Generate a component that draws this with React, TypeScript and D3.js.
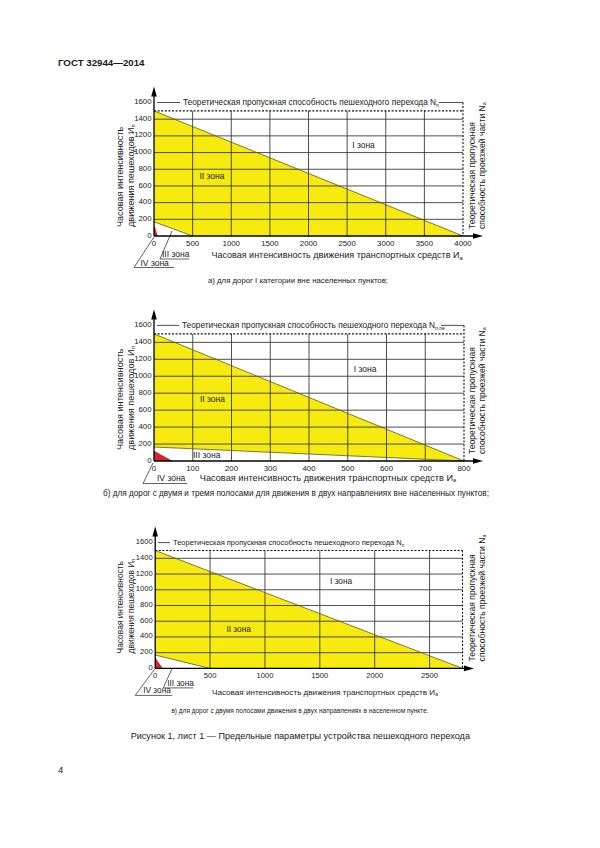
import React from 'react';
import * as d3 from 'd3';

// ---------- data ----------
const yTickValues = [0, 200, 400, 600, 800, 1000, 1200, 1400, 1600];
const yGridValues = [200, 400, 600, 800, 1000, 1200, 1400];
const pedestrianCapacity = 1500;
const yMax = 1600;

const xTicksA = [0, 500, 1000, 1500, 2000, 2500, 3000, 3500, 4000];
const xTicksB = [0, 100, 200, 300, 400, 500, 600, 700, 800];
const xTicksC = [0, 500, 1000, 1500, 2000, 2500];

const roadCapacityA = 4000;
const roadCapacityB = 800;
const roadCapacityC = 2800;

type P = [number, number];
const zoneIIA: P[] = [[0, 1500], [4000, 0], [500, 0], [0, 170]];
const zoneIIIA: P[] = [[0, 170], [500, 0], [0, 0]];
const zoneIVA: P[] = [[0, 140], [50, 0], [0, 0]];

const zoneIIB: P[] = [[0, 1500], [800, 0], [0, 165]];
const zoneIIIB: P[] = [[0, 165], [800, 0], [0, 0]];
const zoneIVB: P[] = [[0, 120], [48, 0], [0, 0]];

const zoneIIC: P[] = [[0, 1500], [2800, 0], [500, 0], [0, 170]];
const zoneIIIC: P[] = [[0, 170], [500, 0], [0, 0]];
const zoneIVC: P[] = [[0, 140], [70, 0], [0, 0]];

const zoneLabelsA = [{ text: 'I зона', x: 2712, y: 1077 }, { text: 'II зона', x: 751, y: 706 }];
const zoneLabelsB = [{ text: 'I зона', x: 545, y: 1074 }, { text: 'II зона', x: 151, y: 720 }, { text: 'III зона', x: 136, y: 63 }];
const zoneLabelsC = [{ text: 'I зона', x: 1694, y: 1099 }, { text: 'II зона', x: 760, y: 489 }];

const yTitle1 = 'Часовая интенсивность';
const yTitle2 = 'движения пешеходов И';
const xTitle = 'Часовая интенсивность движения транспортных средств И';
const topTitle = 'Теоретическая пропускная способность пешеходного перехода N';
const rightTitle1 = 'Теоретическая пропускная';
const rightTitle2 = 'способность проезжей части N';

const captionA = 'а) для дорог I категории вне населенных пунктов;';
const captionB = 'б) для дорог с двумя и тремя полосами для движения в двух направлениях вне населенных пунктов;';
const captionC = 'в) для дорог с двумя полосами движения в двух направлениях в населенном пункте.';
const headerText = 'ГОСТ 32944—2014';
const figureCaption = 'Рисунок 1, лист 1 — Предельные параметры устройства пешеходного перехода';
const pageNumber = '4';

// ---------- layout ----------
const FONT = '"Liberation Sans", Arial, Helvetica, sans-serif';
const YELLOW = '#f6ea0f';
const RED = '#d9232a';
const GRID = '#3b3b3b';
const INK = '#1a1a1a';

type Ann = { text: string; tx: number; ty: number; pts: P[] };

type Cfg = {
  xMax: number; xTicks: number[]; zII: P[]; zIII: P[]; zIV: P[];
  labels: { text: string; x: number; y: number }[];
  x0: number; x1: number; y0: number; y1: number;
  arrowX: number; fs: number; tickFs: number; xTitleFs: number; topFs: number; yTitleFs: number;
  topStart: number; topRightLine: number | null; vTopAtMax: boolean;
  yTitleStart: number; xTitleY: number; xTitleX: number; topSub: string;
  caption: string; capX: number; capY: number; capFs: number;
  anns: Ann[];
};

const cfgA: Cfg = {
  xMax: roadCapacityA, xTicks: xTicksA, zII: zoneIIA, zIII: zoneIIIA, zIV: zoneIVA, labels: zoneLabelsA,
  x0: 154, x1: 463, y0: 236, y1: 102.5, arrowX: 483, fs: 8.5, tickFs: 7.8, xTitleFs: 9, topFs: 8.3, yTitleFs: 9.1,
  topStart: 183, topRightLine: 439, vTopAtMax: true, yTitleStart: 9, xTitleY: 22, xTitleX: 337, topSub: 'п',
  caption: captionA, capX: 298, capY: 283, capFs: 7.8,
  anns: [
    { text: 'IV зона', tx: -13.5, ty: 29.5, pts: [[0, 1], [-20, 31.5], [20, 31.5]] },
    { text: 'III зона', tx: 8, ty: 21, pts: [[18, -5], [6, 23], [35, 23]] },
  ],
};
const cfgB: Cfg = {
  xMax: roadCapacityB, xTicks: xTicksB, zII: zoneIIB, zIII: zoneIIIB, zIV: zoneIVB, labels: zoneLabelsB,
  x0: 154, x1: 464, y0: 461, y1: 325.4, arrowX: 483, fs: 8.5, tickFs: 7.8, xTitleFs: 9.2, topFs: 8.3, yTitleFs: 9.2,
  topStart: 182, topRightLine: 441, vTopAtMax: true, yTitleStart: 11, xTitleY: 19.5, xTitleX: 328, topSub: 'п.пе',
  caption: captionB, capX: 296, capY: 496, capFs: 8.2,
  anns: [
    { text: 'IV зона', tx: 3, ty: 19.5, pts: [[-1, 2], [-11, 22.5], [33, 22.5]] },
  ],
};
const cfgC: Cfg = {
  xMax: roadCapacityC, xTicks: xTicksC, zII: zoneIIC, zIII: zoneIIIC, zIV: zoneIVC, labels: zoneLabelsC,
  x0: 155.2, x1: 462.5, y0: 668.4, y1: 542.6, arrowX: 474, fs: 8.3, tickFs: 7.6, xTitleFs: 8.1, topFs: 7.5, yTitleFs: 8.4,
  topStart: 173, topRightLine: null, vTopAtMax: false, yTitleStart: 15, xTitleY: 26.5, xTitleX: 325, topSub: 'п',
  caption: captionC, capX: 300, capY: 713, capFs: 6.5,
  anns: [
    { text: 'IV зона', tx: -12, ty: 25, pts: [[0, 0], [-20, 27], [17, 27]] },
    { text: 'III зона', tx: 12, ty: 17.5, pts: [[17, 0], [8, 19.5], [38, 19.5]] },
  ],
};

function Chart({ c }: { c: Cfg }) {
  const x = d3.scaleLinear().domain([0, c.xMax]).range([c.x0, c.x1]);
  const y = d3.scaleLinear().domain([0, yMax]).range([c.y0, c.y1]);
  const line = d3.line<P>().x((d) => x(d[0])).y((d) => y(d[1]));
  const poly = (pts: P[]) => (line(pts) || '') + 'Z';
  const X0 = x(0), Y0 = y(0);
  const rel = d3.line<P>().x((d) => X0 + d[0]).y((d) => Y0 + d[1]);
  const yTop = y(yMax);
  const yCap = y(pedestrianCapacity);
  const upper: P[] = [c.zII[0], c.zII[1]];
  const lower: P[] = c.zII.length === 4 ? [c.zII[3], c.zII[2]] : [c.zII[2], c.zII[1]];

  return (
    <g fontFamily={FONT} fill={INK}>
      <path d={poly(c.zII)} fill={YELLOW} stroke="none" />
      <path d={poly(c.zIV)} fill={RED} stroke="none" />
      {yGridValues.map((v) => (
        <line key={'h' + v} x1={X0} x2={x(c.xMax)} y1={y(v)} y2={y(v)} stroke={GRID} strokeWidth={0.9} />
      ))}
      {c.xTicks.filter((v) => v > 0 && v < c.xMax).map((v) => (
        <line key={'v' + v} x1={x(v)} x2={x(v)} y1={Y0} y2={yCap} stroke={GRID} strokeWidth={0.9} />
      ))}
      <path d={line(upper) || ''} stroke="#5a5a20" strokeWidth={0.8} fill="none" />
      <path d={line(lower) || ''} stroke="#5a5a20" strokeWidth={0.8} fill="none" />
      {/* capacity dashed lines */}
      <line x1={X0} x2={x(c.xMax)} y1={yCap} y2={yCap} stroke="#111" strokeWidth={1.1} strokeDasharray="2,1.6" />
      <line x1={x(c.xMax)} x2={x(c.xMax)} y1={c.vTopAtMax ? yTop : yCap} y2={Y0} stroke="#111" strokeWidth={1.1} strokeDasharray="2,1.6" />
      {/* top title */}
      <line x1={X0 + 3} x2={c.topStart - 3} y1={yTop} y2={yTop} stroke="#222" strokeWidth={0.8} />
      {c.topRightLine !== null && (
        <line x1={c.topRightLine} x2={x(c.xMax)} y1={yTop} y2={yTop} stroke="#222" strokeWidth={0.8} />
      )}
      <text x={c.topStart} y={yTop + c.topFs * 0.35} fontSize={c.topFs}>
        {topTitle}
        <tspan fontSize={c.topFs * 0.62} dy={1.5}>{c.topSub}</tspan>
      </text>
      {/* axes */}
      <line x1={X0} x2={X0} y1={Y0} y2={yTop - 12} stroke="#000" strokeWidth={1.3} />
      <path d={`M${X0},${yTop - 16} L${X0 - 2.8},${yTop - 6} L${X0 + 2.8},${yTop - 6}Z`} fill="#000" />
      <line x1={X0} x2={c.arrowX - 8} y1={Y0} y2={Y0} stroke="#000" strokeWidth={1.4} />
      <path d={`M${c.arrowX},${Y0} L${c.arrowX - 10},${Y0 - 2.8} L${c.arrowX - 10},${Y0 + 2.8}Z`} fill="#000" />
      {/* y ticks */}
      {yTickValues.map((v) => (
        <text key={'yt' + v} x={X0 - 2.5} y={y(v) - 0.5} fontSize={c.tickFs} textAnchor="end" dominantBaseline="middle">{v}</text>
      ))}
      {c.xTicks.map((v) => (
        <text key={'xt' + v} x={x(v)} y={Y0 + 10} fontSize={c.tickFs} textAnchor="middle">{v}</text>
      ))}
      {/* zone labels */}
      {c.labels.map((l) => (
        <text key={l.text} x={x(l.x)} y={y(l.y)} fontSize={c.fs} textAnchor="middle" dominantBaseline="middle">{l.text}</text>
      ))}
      {c.anns.map((a) => (
        <g key={a.text}>
          <path d={rel(a.pts) || ''} fill="none" stroke="#222" strokeWidth={0.7} />
          <text x={X0 + a.tx} y={Y0 + a.ty} fontSize={c.fs}>{a.text}</text>
        </g>
      ))}
      {/* titles */}
      <text x={c.xTitleX} y={Y0 + c.xTitleY} fontSize={c.xTitleFs} textAnchor="middle">
        {xTitle}
        <tspan fontSize={c.xTitleFs * 0.62} dy={1.5}>а</tspan>
      </text>
      <text transform={`translate(123,${Y0 - c.yTitleStart}) rotate(-90)`} fontSize={c.yTitleFs}>{yTitle1}</text>
      <text transform={`translate(133.5,${Y0 - c.yTitleStart}) rotate(-90)`} fontSize={c.yTitleFs}>
        {yTitle2}
        <tspan fontSize={c.yTitleFs * 0.62} dy={1.5}>п</tspan>
      </text>
      <text transform={`translate(474.7,${Y0 - 7}) rotate(-90)`} fontSize={8.6}>{rightTitle1}</text>
      <text transform={`translate(484.7,${Y0 - 7}) rotate(-90)`} fontSize={8.6}>
        {rightTitle2}
        <tspan fontSize={8.6 * 0.62} dy={1.5}>а</tspan>
      </text>
      <text x={c.capX} y={c.capY} fontSize={c.capFs} textAnchor="middle">{c.caption}</text>
    </g>
  );
}

export default function App() {
  return (
    <svg width={600} height={848} style={{ position: 'absolute', left: 0, top: 0, background: '#fff' }}>
      <rect width={600} height={848} fill="#fff" />
      <text x={58} y={65.5} fontFamily={FONT} fontWeight="bold" fontSize={9.7} fill={INK}>{headerText}</text>
      <Chart c={cfgA} />
      <Chart c={cfgB} />
      <Chart c={cfgC} />
      <text x={470} y={739} fontFamily={FONT} fontSize={9.1} textAnchor="end" fill={INK}>{figureCaption}</text>
      <text x={58} y={773} fontFamily={FONT} fontSize={9.5} fill={INK}>{pageNumber}</text>
    </svg>
  );
}
